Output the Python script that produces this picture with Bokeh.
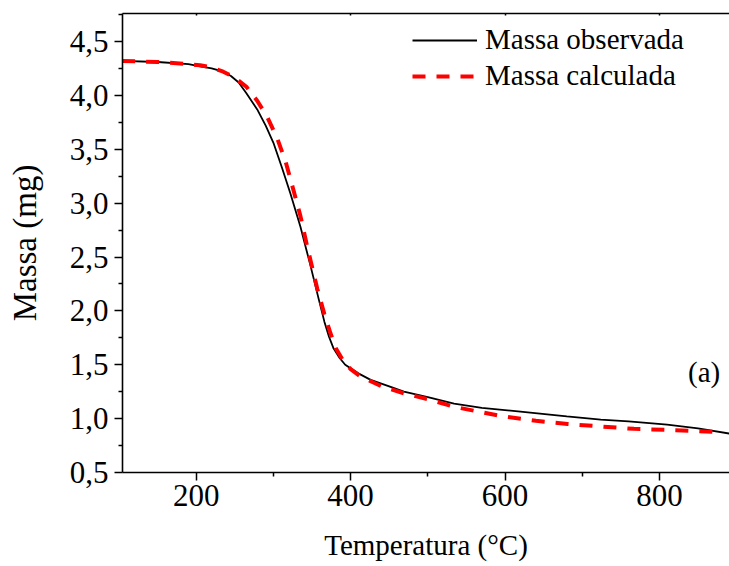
from bokeh.plotting import figure
from bokeh.models import (Range1d, LinearAxis, Legend, LegendItem, FixedTicker,
                          CustomJSTickFormatter, Label)
from bokeh.embed import file_html
from bokeh.resources import INLINE

# observed mass
t_obs = [104, 150, 190, 205, 220, 235, 245, 255, 265, 279, 290, 300, 311, 322,
         335, 348, 359, 366, 372, 378, 386, 393, 410, 426, 450, 469, 500, 534,
         570, 620, 680, 724, 760, 810, 850, 892]
m_obs = [4.32, 4.31, 4.29, 4.27, 4.25, 4.22, 4.18, 4.12, 4.02, 3.87, 3.72, 3.56,
         3.33, 3.09, 2.78, 2.42, 2.10, 1.90, 1.76, 1.65, 1.56, 1.50, 1.42, 1.36,
         1.30, 1.25, 1.20, 1.14, 1.10, 1.065, 1.02, 0.99, 0.975, 0.945, 0.91, 0.86]
# calculated mass
t_calc = [104, 150, 190, 205, 220, 235, 249, 265, 279, 292, 305, 316, 326, 335,
          344, 351, 357, 366, 374, 381, 391, 400, 413, 440, 469, 500, 534, 594,
          640, 681, 767, 830, 875]
m_calc = [4.32, 4.31, 4.29, 4.28, 4.26, 4.22, 4.17, 4.08, 3.95, 3.80, 3.60, 3.38,
          3.12, 2.88, 2.59, 2.38, 2.20, 1.97, 1.79, 1.65, 1.53, 1.46, 1.39, 1.30,
          1.235, 1.18, 1.11, 1.025, 0.98, 0.95, 0.905, 0.89, 0.875]

x_ticks = [200, 400, 600, 800]
x_minor = [300, 500, 700]
y_ticks = [0.5, 1.0, 1.5, 2.0, 2.5, 3.0, 3.5, 4.0, 4.5]
y_minor = [0.75, 1.25, 1.75, 2.25, 2.75, 3.25, 3.75, 4.25, 4.75]

FONT = "Liberation Serif"

p = figure(width=729, height=566, output_backend="svg", toolbar_location=None,
           x_range=Range1d(104.5, 890.8), y_range=Range1d(0.5, 4.76),
           min_border_left=122, min_border_right=0, min_border_top=13,
           min_border_bottom=94)
p.outline_line_color = None
p.grid.visible = False
p.background_fill_color = "white"

fmt = CustomJSTickFormatter(code="return tick.toFixed(1).replace('.', ',');")

xa = p.xaxis[0]
xa.ticker = FixedTicker(ticks=x_ticks, minor_ticks=x_minor)
xa.axis_label = "Temperatura (°C)"
ya = p.yaxis[0]
ya.ticker = FixedTicker(ticks=y_ticks, minor_ticks=y_minor)
ya.formatter = fmt
ya.axis_label = "Massa (mg)"

for ax in (xa, ya):
    ax.axis_line_width = 1.6
    ax.axis_line_color = "black"
    ax.major_tick_line_width = 1.5
    ax.minor_tick_line_width = 1.5
    ax.major_tick_line_color = "black"
    ax.minor_tick_line_color = "black"
    ax.major_tick_in = 0
    ax.major_tick_out = 8
    ax.minor_tick_in = 0
    ax.minor_tick_out = 4
    ax.major_label_text_font = FONT
    ax.major_label_text_font_size = "31px"
    ax.major_label_text_color = "black"
    ax.axis_label_text_font = FONT
    ax.axis_label_text_font_size = "29px"
    ax.axis_label_text_font_style = "normal"
    ax.axis_label_text_color = "black"
xa.major_label_standoff = 4
xa.axis_label_standoff = 20
ya.major_label_standoff = 6
ya.axis_label_standoff = 24
ya.axis_label_text_font_size = "33px"

top = LinearAxis(ticker=FixedTicker(ticks=x_ticks, minor_ticks=[]),
                 formatter=CustomJSTickFormatter(code="return '';"),
                 major_label_standoff=0,
                 major_tick_in=2, major_tick_out=0, axis_line_width=1.6,
                 major_tick_line_width=1.5)
p.add_layout(top, "above")

r_obs = p.line(t_obs, m_obs, line_color="black", line_width=1.8)
r_calc = p.line(t_calc, m_calc, line_color="#ff0000", line_width=4,
                line_dash="13 11")

legend = Legend(items=[LegendItem(label="Massa observada", renderers=[r_obs]),
                       LegendItem(label="Massa calculada", renderers=[r_calc])],
                location=(290, 380), glyph_width=65, glyph_height=30,
                label_height=30, spacing=3, label_standoff=8, padding=0,
                margin=0, border_line_color=None, background_fill_alpha=0,
                label_text_font=FONT, label_text_font_size="29px",
                label_text_color="black")
p.add_layout(legend, "center")

p.add_layout(Label(x=837, y=1.435, text="(a)", text_font=FONT,
                   text_font_size="29px", text_baseline="middle",
                   text_color="black"))

open("out.html", "w").write(file_html(p, INLINE))
